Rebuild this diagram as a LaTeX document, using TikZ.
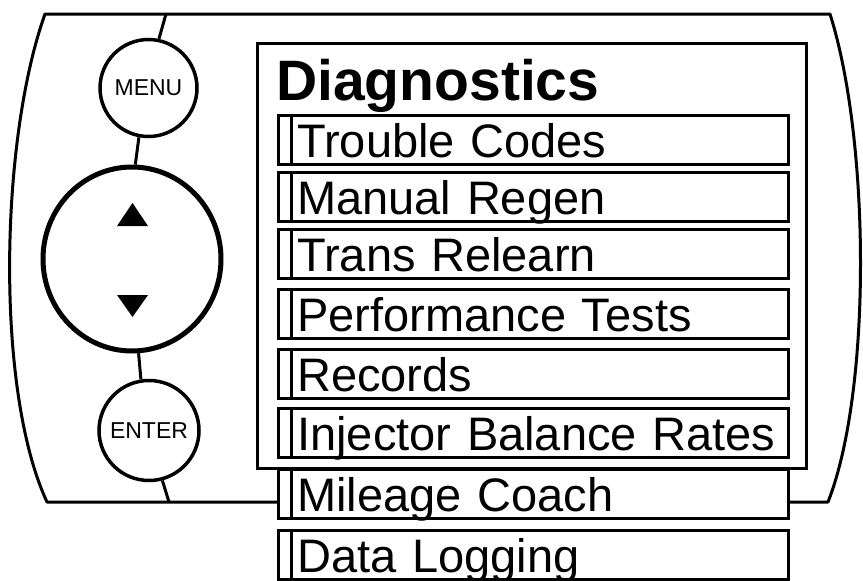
\documentclass[tikz,border=0pt]{standalone}
\usepackage{fontspec}
\setmainfont{Liberation Sans}
\usetikzlibrary{shapes.geometric}
\begin{document}
\begin{tikzpicture}[x=1pt,y=-1pt,
  bezel/.style={line width=3pt, line join=round},
  link/.style={line width=3pt},
  btn/.style={circle, draw, line width=3.5pt, inner sep=0pt, fill=white, font=\fontsize{23}{25}\selectfont},
  screenbox/.style={line width=3pt},
  item/.style={draw, line width=2.5pt, fill=white, anchor=north west,
    minimum width=510pt, text width=490pt, align=left, inner xsep=10pt, inner ysep=0pt,
    text height=42pt, text depth=7pt, font=\fontsize{47}{50}\selectfont,
    execute at begin node={\hspace*{9pt}},
    path picture={\draw[line width=2.5pt] ([xshift=13pt]path picture bounding box.north west) -- ([xshift=13pt]path picture bounding box.south west);}},
  titlestyle/.style={anchor=base west, inner sep=0pt, font=\bfseries\fontsize{57}{60}\selectfont}
]
\useasboundingbox (0,0) rectangle (863,581);
\fill[white] (0,0) rectangle (863,581);
% bezel
\draw[bezel] (277,502) -- (47,502) .. controls (-5,390) and (0,140) .. (45,14) -- (830,14)
  .. controls (870,140) and (872,390) .. (828,502) -- (787,502);
% screen
\draw[screenbox] (257,43) rectangle (806,468);
% buttons
\node[btn, minimum size=97pt] (menu) at (148.5,88) {MENU};
\node[ellipse, draw, line width=5pt, minimum width=178pt, minimum height=184pt, inner sep=0pt] (pad) at (132,259) {};
\node[btn, minimum size=100pt] (enter) at (149,430.5) {ENTER};
\fill (117,226) -- (132.5,203) -- (148,226) -- cycle;
\fill (117,295) -- (148,295) -- (132.5,317) -- cycle;
% connectors
\coordinate (topjoin) at (166,14);
\coordinate (botjoin) at (169,502);
\draw[link] (topjoin) -- (menu.78);
\draw[link] (menu.259) -- (pad.88);
\draw[link] (pad.274) -- (enter.99);
\draw[link] (enter.285) -- (botjoin);
% title
\node[titlestyle] (title) at (276,100) {Diagnostics};
% items
\node[item] (i1) at (277,114) {Trouble Codes};
\node[item] (i2) at (277,171) {Manual Regen};
\node[item] (i3) at (277,228) {Trans Relearn};
\node[item] (i4) at (277,288) {Performance Tests};
\node[item] (i5) at (277,348) {Records};
\node[item] (i6) at (277,407) {Injector Balance Rates};
\node[item] (i7) at (277,468) {Mileage Coach};
\node[item] (i8) at (277,529) {Data Logging};
\end{tikzpicture}
\end{document}
